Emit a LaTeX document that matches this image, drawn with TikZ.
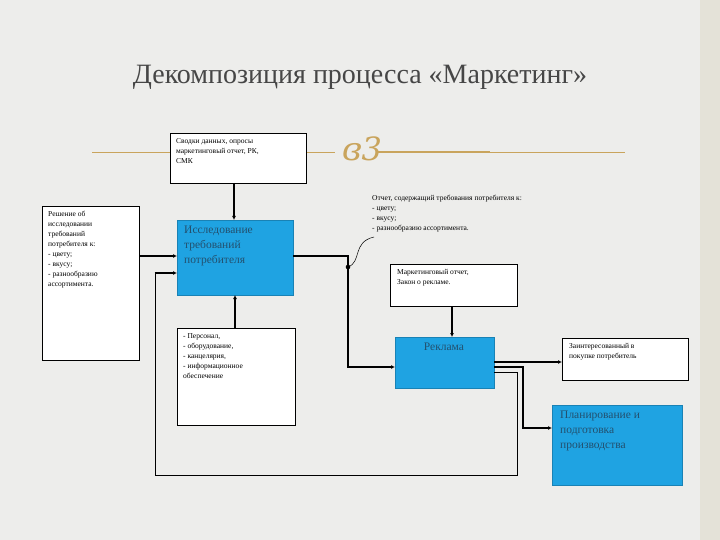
\documentclass[tikz,border=0pt]{standalone}
\usepackage{fontspec}
\setmainfont{Liberation Serif}
\newfontfamily\ornfont{DejaVu Serif}
\usetikzlibrary{arrows.meta}
\definecolor{bg}{HTML}{EDEDEB}
\definecolor{edge}{HTML}{E4E2D8}
\definecolor{gold}{HTML}{C9A45C}
\definecolor{bluebox}{HTML}{1FA3E2}
\definecolor{btext}{HTML}{23506E}
\definecolor{ttl}{HTML}{464646}
\tikzset{
 wbox/.style={draw=black,fill=white,line width=0.6pt},
 bbox/.style={draw=bluebox!80!black,fill=bluebox,line width=0.6pt},
 small/.style={font=\fontsize{7.5}{10}\selectfont,align=left,anchor=north west,inner sep=0pt},
 btxt/.style={font=\fontsize{11.5}{15}\selectfont,text=btext,align=left,anchor=north west,inner sep=0pt},
 conn/.style={line width=1.6pt},
 arr/.style={conn,-{Latex[length=4pt,width=4pt]}}
}
\begin{document}
\begin{tikzpicture}[x=1pt,y=-1pt]
\useasboundingbox (0,0) rectangle (720,540);
\fill[bg] (0,0) rectangle (720,540);
\fill[edge] (700,0) rectangle (720,540);
\node[font=\fontsize{28}{32}\selectfont,text=ttl] (title) at (360,77) {Декомпозиция процесса «Маркетинг»};
% gold rule and ornament
\draw[gold,line width=0.8pt] (92,152) -- (335,152);
\draw[gold,line width=0.8pt] (385,152) -- (625,152);
\draw[gold,line width=1.2pt] (378,152) -- (490,152);
\node[text=gold,font=\ornfont\fontsize{32}{32}\selectfont\itshape] (orn) at (362,149) {ɞ3};
% boxes
\draw[wbox] (170,133) rectangle (306,183);
\node[small] (a) at (176,138) {Сводки данных, опросы\\маркетинговый отчет, РК,\\СМК};
\draw[wbox] (42,206) rectangle (139,360);
\node[small] (b) at (48,211) {Решение об\\исследовании\\требований\\потребителя к:\\- цвету;\\- вкусу;\\- разнообразию\\ассортимента.};
\draw[bbox] (177,220) rectangle (293,295);
\node[btxt] (r1) at (184,226) {Исследование\\требований\\потребителя};
\draw[wbox] (177,328) rectangle (295,425);
\node[small] (c) at (183,333) {- Персонал,\\- оборудование,\\- канцелярия,\\- информационное\\обеспечение};
\node[small] (note) at (372,195) {Отчет, содержащий требования потребителя к:\\- цвету;\\- вкусу;\\- разнообразию ассортимента.};
\draw[wbox] (390,264) rectangle (517,306);
\node[small] (d) at (397,269) {Маркетинговый отчет,\\Закон о рекламе.};
\draw[bbox] (395,337) rectangle (494,388);
\node[btxt,anchor=north] (rek) at (444,343) {Реклама};
\draw[wbox] (562,338) rectangle (688,380);
\node[small] (e) at (569,343) {Заинтересованный в\\покупке потребитель};
\draw[bbox] (552,405) rectangle (682,485);
\node[btxt] (pl) at (560,411) {Планирование и\\подготовка\\производства};
% connectors
\draw[arr] (234,183) -- (234,220);
\draw[arr] (139,256) -- (177,256);
\draw[arr] (235,328) -- (235,295);
\draw[arr] (293,256) -- (348,256) -- (348,367) -- (395,367);
\fill (348,267) circle (2.3pt);
\draw[line width=0.5pt] (348,267) .. controls (362,262) and (352,242) .. (374,237);
\draw[arr] (452,306) -- (452,337);
\draw[arr] (494,362) -- (562,362);
\draw[arr] (494,367) -- (523,367) -- (523,428) -- (552,428);
\draw[line width=1pt] (494,372) -- (517,372) -- (517,475) -- (155,475) -- (155,273);
\draw[arr] (154.5,273) -- (177,273);
\end{tikzpicture}
\end{document}
